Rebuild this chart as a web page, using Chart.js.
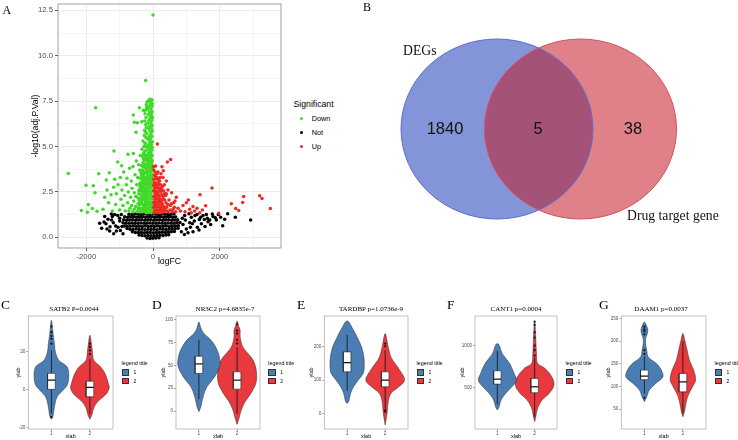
<!DOCTYPE html>
<html>
<head>
<meta charset="utf-8">
<title>DEGs volcano, Venn and violin panels</title>
<script src="https://cdn.jsdelivr.net/npm/chart.js@4.4.1/dist/chart.umd.min.js"></script>
<style>
  html, body { margin: 0; padding: 0; background: #fff; }
  #fig { position: relative; width: 738px; height: 440px; overflow: hidden; font-family: 'Liberation Sans', Arial, sans-serif; color: #000; }
  #fig canvas { position: absolute; }
  .t { position: absolute; white-space: nowrap; line-height: 1; }
  .serif { font-family: 'Liberation Serif', 'Times New Roman', serif; }
  .dot { position: absolute; width: 3.6px; height: 3.6px; border-radius: 50%; margin: -1.8px 0 0 -1.8px; }
  .key { position: absolute; width: 7.5px; height: 6.3px; box-sizing: border-box; border: 0.6px solid #333; }
</style>
</head>
<body>
<div id="fig"></div>
<script>
// ---- A: volcano data (logFC, -log10 adj.P) ----
const volcanoDown = [
  [0,12.24],[-220,8.64],[-1720,7.14],[-410,7.14],[-290,7.0],[-590,6.73],[-560,6.33],[-470,6.31],[-340,6.37],[-510,5.78],
  [-2540,3.52],[-2010,2.86],[-1790,2.84],[-1740,2.46],[-1940,1.80],[-1820,1.58],[-2150,1.47],[-1970,1.38],[-1680,1.43],
  [-1630,3.50],[-1310,3.56],[-1400,3.16],[-1170,4.75],[-1060,4.15],[-750,4.57],[-590,4.62],[-940,3.94],
  [-1500,1.55],[-1450,2.2],[-1380,2.6],[-1330,1.9],[-1260,2.35],[-1220,1.45],[-1180,2.75],[-1150,3.2],[-1120,1.8],
  [-1100,2.4],[-1050,2.9],[-1000,1.5],[-980,3.3],[-960,2.1],[-930,2.6],[-900,1.75],[-880,3.6],[-850,2.3],[-830,1.45],
  [-800,2.9],[-780,3.25],[-760,1.9],[-740,2.5],[-700,3.8],[-690,1.6],[-670,2.2],[-650,3.1],[-630,2.7],[-610,1.4],
  [-600,3.9],[-580,2.0],[-560,2.45],[-540,3.45],[-520,1.7],[-500,4.2],[-490,2.9],[-470,2.2],[-460,3.3],[-440,1.5],
  [-430,4.0],[-420,2.6],[-400,3.7],[-390,1.9],[-380,4.5],[-370,3.0],[-360,2.35],[-350,1.6],[-340,3.4],[-330,4.85],
  [-320,2.75],[-310,2.1],[-300,5.3],[-300,3.9],[-290,1.45],[-280,4.3],[-270,3.2],[-260,2.5],[-250,5.9],[-250,1.8],
  [-720,1.45],[-640,1.75],[-560,1.55],[-520,2.25],[-480,1.4],[-450,1.85],[-410,1.6],[-370,1.4],[-340,2.0],[-320,1.55],
  [-280,1.75],[-260,2.1],[-240,1.4],[-430,2.4],[-390,2.8],[-350,2.6],[-310,3.0],[-270,2.85],[-290,3.6],[-250,3.3],
  [-240,4.0],[-260,4.7],[-230,5.2],[-220,6.2],[-240,6.8],[-200,7.3],
  [-440,1.62],[-400,1.78],[-360,1.95],[-320,1.85],[-300,1.62],[-270,1.5],[-230,1.68],[-420,2.05],[-380,2.15],[-330,2.3],
  [-290,2.2],[-250,2.35],[-220,2.2],[-410,2.55],[-370,2.7],[-330,2.5],[-300,2.6],[-270,2.45],[-240,2.62],[-400,2.95],
  [-350,2.85],[-320,3.15],[-290,3.3],[-260,3.05],[-230,3.2],[-380,3.25],[-360,3.55],[-320,3.7],[-280,3.45],[-250,3.55],
  [-230,3.8],[-340,3.95],[-300,4.1],[-270,3.9],[-250,4.25],[-220,4.4],[-320,4.45],[-290,4.6],[-240,4.55],[-210,4.8],
  [-270,5.0],[-240,5.15],[-210,5.5],[-260,5.6],[-230,5.8],[-200,6.05],[-250,6.4],[-210,6.6],[-230,7.0],[-190,7.15],
  [-180,7.45],[-200,5.0],[-190,4.3],[-210,3.6],[-190,2.9],[-200,2.45],[-190,1.58],
  [-200,1.35],[-120,1.36],[-40,1.35],[-240,1.5],[-160,1.5],[-80,1.52],[-15,1.5],[-210,1.65],[-130,1.66],[-50,1.64],
  [-180,1.8],[-100,1.8],[-25,1.81],[-230,1.95],[-150,1.96],[-70,1.94],[-200,2.1],[-120,2.1],[-40,2.11],
  [-170,2.25],[-90,2.26],[-15,2.25],[-230,2.4],[-150,2.4],[-60,2.41],[-190,2.55],[-110,2.55],[-30,2.56],
  [-220,2.7],[-140,2.7],[-60,2.71],[-180,2.85],[-100,2.85],[-20,2.86],[-210,3.0],[-130,3.0],[-50,3.01],
  [-160,3.15],[-80,3.15],[-15,3.16],[-200,3.3],[-120,3.3],[-40,3.31],[-170,3.45],[-90,3.45],[-20,3.46],
  [-220,3.6],[-140,3.6],[-60,3.61],[-180,3.75],[-100,3.75],[-25,3.76],[-150,3.9],[-70,3.9],[-15,3.91],
  [-200,4.05],[-120,4.05],[-40,4.06],[-160,4.2],[-80,4.2],[-20,4.21],[-130,4.35],[-60,4.36],[-190,4.5],[-100,4.5],
  [-25,4.51],[-140,4.65],[-60,4.66],[-110,4.8],[-30,4.81],[-170,4.95],[-80,4.95],[-20,4.96],[-130,5.1],[-50,5.11],
  [-100,5.25],[-20,5.26],[-150,5.4],[-70,5.41],[-110,5.55],[-30,5.56],[-180,5.7],[-60,5.71],[-90,5.85],[-20,5.86],
  [-140,6.0],[-50,6.01],[-100,6.15],[-25,6.16],[-160,6.3],[-60,6.31],[-120,6.45],[-30,6.46],[-80,6.6],[-20,6.61],
  [-140,6.75],[-50,6.76],[-100,6.9],[-25,6.91],[-160,7.05],[-60,7.06],[-120,7.2],[-30,7.21],[-80,7.35],[-20,7.36],
  [-140,7.5],[-60,7.51],[-100,7.6],[-30,7.58]
];
const volcanoNot = [
  [-180,-0.04],[-90,-0.06],[0,-0.05],[90,-0.04],[180,-0.03],
  [-420,0.12],[-330,0.1],[-240,0.09],[-150,0.1],[-60,0.08],[30,0.09],[120,0.1],[210,0.11],[300,0.1],[390,0.13],[470,0.14],
  [-620,0.3],[-530,0.27],[-440,0.26],[-350,0.27],[-260,0.25],[-170,0.27],[-80,0.26],[10,0.25],[100,0.27],[190,0.26],
  [280,0.28],[370,0.27],[460,0.29],[550,0.3],[640,0.32],
  [-780,0.48],[-690,0.44],[-600,0.43],[-510,0.45],[-420,0.43],[-330,0.44],[-240,0.42],[-150,0.44],[-60,0.43],[30,0.44],
  [120,0.42],[210,0.45],[300,0.44],[390,0.43],[480,0.45],[570,0.46],[660,0.47],[750,0.5],
  [-860,0.62],[-770,0.6],[-680,0.61],[-590,0.62],[-500,0.6],[-410,0.61],[-320,0.6],[-230,0.62],[-140,0.6],[-50,0.61],
  [40,0.6],[130,0.62],[220,0.6],[310,0.61],[400,0.62],[490,0.6],[580,0.61],[670,0.62],[760,0.64],
  [-900,0.8],[-810,0.77],[-720,0.78],[-630,0.79],[-540,0.77],[-450,0.78],[-360,0.79],[-270,0.77],[-180,0.78],[-90,0.79],
  [0,0.77],[90,0.78],[180,0.79],[270,0.77],[360,0.78],[450,0.79],[540,0.77],[630,0.78],[720,0.8],[810,0.82],
  [-880,0.96],[-790,0.94],[-700,0.95],[-610,0.96],[-520,0.94],[-430,0.95],[-340,0.96],[-250,0.94],[-160,0.95],[-70,0.96],
  [20,0.94],[110,0.95],[200,0.96],[290,0.94],[380,0.95],[470,0.96],[560,0.94],[650,0.95],[740,0.97],
  [-850,1.13],[-760,1.11],[-670,1.12],[-580,1.13],[-490,1.11],[-400,1.12],[-310,1.13],[-220,1.11],[-130,1.12],[-40,1.13],
  [50,1.11],[140,1.12],[230,1.13],[320,1.11],[410,1.12],[500,1.13],[590,1.11],[680,1.12],
  [-720,1.27],[-630,1.26],[-540,1.28],[-450,1.27],[-360,1.26],[-270,1.28],[-180,1.27],[-90,1.26],[0,1.28],[90,1.27],
  [180,1.26],[270,1.28],[360,1.27],[450,1.26],[540,1.27],[630,1.28],
  [2930,0.95],[2090,0.64],[2470,1.10],[2240,1.30],[2030,1.10],[1870,1.08],[1730,0.70],[1630,1.05],[1540,0.98],[1390,0.98],
  [1200,0.30],[1330,0.55],[1450,0.75],[1600,1.25],[1100,0.8],[1150,1.1],[1000,0.45],[950,1.2],[900,0.7],[1260,1.2],
  [1700,0.95],[1800,1.15],[1500,1.2],[850,0.3],
  [-1540,0.50],[-1410,0.75],[-1290,0.58],[-1190,0.80],[-1470,0.84],[-1350,1.0],[-1220,1.15],[-1100,0.35],[-1000,0.9],
  [-1050,0.55],[-950,1.25],[-1150,1.25],[-900,0.2],[-1600,0.78],[-1300,0.35],[-1250,1.28],
  [-1380,0.45],[-1240,0.95],[-1120,0.62],[-980,0.38],[-1060,1.2],[-930,0.6],[-1000,1.05],[-1180,0.2],[-1450,1.15],
  [1050,0.25],[1120,0.55],[1240,0.9],[1320,1.25],[1380,0.4],[1430,1.1],[970,0.95],[1080,1.3],[880,1.05],[940,0.15],
  [1180,0.75],[1560,0.6],[1650,0.85],[1780,1.28],[1900,0.95],[1960,1.25],[2150,1.0]
];
const volcanoUp = [
  [130,5.14],[530,4.29],[430,4.15],[80,3.93],[270,3.89],[310,3.67],[1770,2.72],[1410,2.35],[1060,2.06],[1580,1.74],
  [1970,1.32],[2350,1.85],[2690,1.91],[2720,2.24],[2480,1.58],[2570,1.47],[3200,2.29],[3270,2.13],[3520,1.58],
  [620,1.9],[700,2.2],[750,1.6],[820,1.45],[900,1.75],[960,1.4],[1000,1.9],[1100,1.55],[1150,1.35],[1200,1.7],
  [1250,1.45],[1320,1.6],[1400,1.35],[1480,1.5],[680,1.4],[560,2.45],[600,1.55],[520,1.75],[480,2.05],[450,2.6],
  [420,1.45],[400,3.1],[380,2.3],[350,1.6],[340,2.9],[320,2.1],[300,3.3],[290,1.4],[260,2.65],[240,3.5],[230,1.9],
  [200,3.1],[180,2.3],[150,3.6],[130,2.8],[110,3.3],[90,2.5],[60,3.6],[40,3.0],[20,3.9],
  [300,1.5],[330,1.7],[370,1.45],[390,1.9],[410,1.65],[440,1.8],[460,1.4],[280,1.85],[250,2.0],[300,2.25],[350,2.05],
  [400,2.4],[270,2.35],[230,2.5],[320,2.55],[350,2.4],[280,2.8],[230,2.9],[200,2.7],[180,2.9],[210,3.3],[160,3.2],
  [120,3.5],[80,3.25],[190,2.05],[240,1.75],[510,1.5],[550,1.85],[580,1.4],[640,1.65],[660,2.0],
  [30,1.35],[110,1.36],[190,1.35],[260,1.37],[60,1.5],[140,1.5],[220,1.51],[20,1.65],[100,1.65],[180,1.66],[250,1.64],
  [50,1.8],[130,1.8],[210,1.81],[20,1.95],[90,1.95],[170,1.96],[60,2.1],[140,2.1],[220,2.11],[25,2.25],[100,2.25],
  [180,2.26],[60,2.4],[140,2.41],[20,2.55],[100,2.55],[190,2.56],[50,2.7],[130,2.71],[20,2.85],[90,2.86],[60,3.0],
  [150,3.01],[25,3.2],[100,3.21],[50,3.4],[25,3.7]
];
const logFCTicks = [-2000, 0, 2000];
const logFCMinor = [-1000, 1000, 3000];
const adjPTicks = [0, 2.5, 5, 7.5, 10, 12.5];
const adjPMinor = [1.25, 3.75, 6.25, 8.75, 11.25];
const significance = ['Down', 'Not', 'Up'];

// ---- B: Venn ----
const vennSets = ['DEGs', 'Drug target gene'];
const vennCounts = [1840, 5, 38];

// ---- C-G: violin panels ----
const genes = ['SATB2', 'NR3C2', 'TARDBP', 'CANT1', 'DAAM1'];
const pTexts = ['P=0.0044', 'p=4.6835e-7', 'p=1.0736e-9', 'p=0.0004', 'p=0.0037'];
const groups = ['1', '2'];
const exprTicks = [[-20, 0, 20], [0, 25, 50, 75, 100], [0, 100, 200], [500, 1000], [50, 100, 150, 200, 250]];
const exprRange = [[-20.8, 38.5], [-19.6, 104], [-47, 293], [8, 1357], [6, 255.5]];
// [value, half width of the density]
const violinG1 = [
  [[-15.7,0],[-14.3,0.04],[-9.1,0.08],[-3.9,0.15],[-0.4,0.30],[2.3,0.41],[6.6,0.45],[11.8,0.41],[15.3,0.19],[20,0.10],[24,0.08],[28,0.05],[32,0.03],[36.3,0]],
  [[-0.7,0],[4.7,0.05],[15.6,0.11],[26.5,0.21],[37.4,0.41],[48.4,0.54],[55.7,0.55],[66.6,0.48],[77.5,0.32],[84.8,0.13],[91,0.05],[97.5,0]],
  [[30,0],[35,0.04],[60,0.09],[80,0.17],[100,0.29],[120,0.42],[140,0.45],[170,0.44],[200,0.38],[230,0.26],[250,0.17],[278,0]],
  [[234,0],[274,0.05],[354,0.10],[433,0.22],[512,0.39],[591,0.51],[671,0.45],[790,0.33],[910,0.13],[1008,0.05],[1028,0]],
  [[66,0],[77,0.06],[92,0.13],[107,0.30],[121,0.48],[136,0.44],[150,0.32],[165,0.10],[180,0.06],[195,0.03],[205,0.03],[215,0.07],[224,0.09],[233,0.06],[242,0]]
];
const violinG2 = [
  [[-15.7,0],[-13.5,0.05],[-9.8,0.10],[-6.5,0.20],[-3,0.40],[0.5,0.50],[3.1,0.48],[8.4,0.39],[11.8,0.28],[15.3,0.10],[18.8,0.07],[22.3,0.05],[28.4,0]],
  [[-14.5,0],[-8,0.05],[1.1,0.11],[10.2,0.21],[19.3,0.36],[30.2,0.49],[41.2,0.51],[52,0.46],[59.3,0.36],[70.2,0.15],[81.1,0.08],[88.4,0.08],[93,0.04],[98.6,0]],
  [[-35,0],[0,0.05],[35,0.08],[60,0.15],[80,0.36],[100,0.51],[125,0.41],[150,0.26],[170,0.15],[200,0.08],[240,0]],
  [[95,0],[150,0.03],[255,0.08],[354,0.20],[433,0.39],[532,0.52],[631,0.46],[731,0.28],[790,0.08],[900,0.05],[1100,0.03],[1298,0]],
  [[33,0],[44,0.04],[62.5,0.08],[81,0.14],[99,0.25],[114,0.33],[136,0.28],[158,0.17],[180,0.11],[202,0.05],[217,0]]
];
// [lower whisker, q1, median, q3, upper whisker]
const boxG1 = [[-12.5, 0, 4.9, 8.4, 20.5], [13, 41.1, 51.6, 60, 78], [68, 125, 153, 185, 236], [300, 544, 603, 703, 940], [85, 115, 122.6, 136, 166]];
const boxG2 = [[-13, -3.9, 1.0, 4.3, 16], [-3, 24, 33.8, 42.9, 70], [15, 80, 100, 125, 190], [150, 441, 512, 612, 860], [40, 88, 110, 128.6, 200]];
const outG1 = [[-14.5, 24, 26.5, 28, 30, 33], [], [], [], [75, 172, 180, 215, 222, 226, 232]];
const outG2 = [[18.5, 20.5, 22.3, 24], [74, 78, 84.8, 88, 95], [5, 10, 202, 210], [885, 950, 1004, 1100, 1162, 1250, 1290], []];

// ---- styles / layout ----
const GREEN = '#3fd928', RED_PT = '#ee2a24';
const BLUE = '#4a7db4', RED = '#e8393e';
const BOX_HALF = 0.1;
const panels = [
  { left: 28.3, right: 115, yAxisW: 13, letterX: 1, titleX: 74 },
  { left: 176, right: 261.7, yAxisW: 16, letterX: 152, titleX: 225 },
  { left: 324.3, right: 410, yAxisW: 16, letterX: 297, titleX: 371 },
  { left: 475, right: 559, yAxisW: 16, letterX: 447, titleX: 516 },
  { left: 621.3, right: 708, yAxisW: 16, letterX: 599, titleX: 661 }
];

Chart.defaults.font.family = "'Liberation Sans', Arial, sans-serif";

const fig = document.getElementById('fig');

function addCanvas(left, top, w, h) {
  const c = document.createElement('canvas');
  c.width = w; c.height = h;
  c.style.left = left + 'px'; c.style.top = top + 'px';
  c.style.width = w + 'px'; c.style.height = h + 'px';
  fig.appendChild(c);
  return c;
}

function addText(text, x, y, size, opts = {}) {
  const d = document.createElement('div');
  d.className = 't' + (opts.serif ? ' serif' : '');
  d.textContent = text;
  d.style.left = x + 'px'; d.style.top = y + 'px';
  d.style.fontSize = size + 'px';
  if (opts.color) d.style.color = opts.color;
  d.style.transform = 'translate(' + (opts.center ? '-50%' : '0') + ', -50%)';
  fig.appendChild(d);
  return d;
}

function addBox(cls, x, y, color) {
  const d = document.createElement('div');
  d.className = cls;
  d.style.left = x + 'px'; d.style.top = y + 'px';
  d.style.background = color;
  fig.appendChild(d);
}

const toXY = arr => arr.map(p => ({ x: p[0], y: p[1] }));
const has = (arr, v) => arr.some(t => Math.abs(t - v) < 1e-9);

const framePlugin = {
  id: 'frame',
  afterDatasetsDraw(chart, args, opts) {
    const a = chart.chartArea, ctx = chart.ctx;
    ctx.save();
    ctx.strokeStyle = opts.color;
    ctx.lineWidth = opts.width;
    ctx.strokeRect(a.left, a.top, a.right - a.left, a.bottom - a.top);
    ctx.restore();
  }
};

// ---------- A: volcano ----------
new Chart(addCanvas(0, 0, 290, 270), {
  type: 'scatter',
  data: {
    datasets: [
      { label: significance[0], data: toXY(volcanoDown), backgroundColor: GREEN, order: 1 },
      { label: significance[1], data: toXY(volcanoNot), backgroundColor: '#000', order: 2 },
      { label: significance[2], data: toXY(volcanoUp), backgroundColor: RED_PT, order: 0 }
    ]
  },
  options: {
    responsive: false, animation: false, events: [],
    elements: { point: { radius: 1.75, borderWidth: 0 } },
    layout: { padding: { left: 30, right: 9, top: 4, bottom: 0 } },
    plugins: { legend: { display: false }, tooltip: { enabled: false }, frame: { color: '#8a8a8a', width: 0.8 } },
    scales: {
      x: {
        min: -2850, max: 3840,
        afterBuildTicks: s => { s.ticks = logFCMinor.concat(logFCTicks).sort((a, b) => a - b).map(v => ({ value: v })); },
        afterFit: s => { s.height = 22; s.paddingLeft = 0; s.paddingRight = 0; },
        border: { display: false },
        grid: {
          color: '#ebebeb', tickLength: 3,
          lineWidth: c => (c.tick && has(logFCTicks, c.tick.value)) ? 0.9 : 0.45,
          tickColor: c => (c.tick && has(logFCTicks, c.tick.value)) ? '#444' : 'rgba(0,0,0,0)'
        },
        ticks: { autoSkip: false, maxRotation: 0, padding: 1, color: '#4d4d4d', font: { size: 7.7 },
                 callback: v => has(logFCTicks, v) ? String(v) : '' },
        title: { display: true, text: 'logFC', color: '#000', font: { size: 8.7 }, padding: { top: 0, bottom: 3 } }
      },
      y: {
        min: -0.59, max: 12.85,
        afterBuildTicks: s => { s.ticks = adjPMinor.concat(adjPTicks).sort((a, b) => a - b).map(v => ({ value: v })); },
        afterFit: s => { s.width = 28; s.paddingTop = 0; s.paddingBottom = 0; },
        border: { display: false },
        grid: {
          color: '#ebebeb', tickLength: 3,
          lineWidth: c => (c.tick && has(adjPTicks, c.tick.value)) ? 0.9 : 0.45,
          tickColor: c => (c.tick && has(adjPTicks, c.tick.value)) ? '#444' : 'rgba(0,0,0,0)'
        },
        ticks: { autoSkip: false, padding: 2, color: '#4d4d4d', font: { size: 7.7 },
                 callback: v => has(adjPTicks, v) ? v.toFixed(1) : '' },
        title: { display: true, text: '-log10(adj.P.Val)', color: '#000', font: { size: 8.7 }, padding: { top: 0, bottom: 0 } }
      }
    }
  },
  plugins: [framePlugin]
});

addText('A', 2.5, 10, 12, { serif: true });
addText('Significant', 293.5, 104, 8.7);
[GREEN, '#000', RED_PT].forEach((col, i) => {
  addBox('dot', 301.7, 118.7 + i * 14, col);
  addText(significance[i], 311.7, 118.7 + i * 14, 7.3);
});

// ---------- B: Venn ----------
const vennShapes = [
  { cx: 127, cy: 129, rx: 96, ry: 90, fill: '#8494d9', line: '#5b6ecc' },
  { cx: 210.5, cy: 129, rx: 96, ry: 90, fill: '#e0818a', line: '#d2505f' }
];
const vennOverlap = '#a55279';
const vennCountPos = [[75, 134], [168, 134], [263, 134]];
const vennLabelPos = [[33, 55], [257, 219.5]];

const vennPlugin = {
  id: 'venn',
  afterDatasetsDraw(chart) {
    const { ctx, scales: { x, y } } = chart;
    const el = s => [x.getPixelForValue(s.cx), y.getPixelForValue(s.cy),
                     Math.abs(x.getPixelForValue(s.cx + s.rx) - x.getPixelForValue(s.cx)),
                     Math.abs(y.getPixelForValue(s.cy + s.ry) - y.getPixelForValue(s.cy))];
    const path = s => { const e = el(s); ctx.beginPath(); ctx.ellipse(e[0], e[1], e[2], e[3], 0, 0, Math.PI * 2); };
    ctx.save();
    vennShapes.forEach(s => { path(s); ctx.fillStyle = s.fill; ctx.fill(); });
    ctx.save();
    path(vennShapes[0]); ctx.clip();
    path(vennShapes[1]); ctx.fillStyle = vennOverlap; ctx.fill();
    ctx.restore();
    vennShapes.forEach(s => { path(s); ctx.strokeStyle = s.line; ctx.lineWidth = 1; ctx.stroke(); });
    ctx.fillStyle = '#111';
    ctx.textAlign = 'center'; ctx.textBaseline = 'alphabetic';
    ctx.font = "16.5px 'Liberation Sans', Arial, sans-serif";
    vennCounts.forEach((n, i) => ctx.fillText(String(n), x.getPixelForValue(vennCountPos[i][0]), y.getPixelForValue(vennCountPos[i][1])));
    ctx.textAlign = 'left';
    ctx.font = "13.7px 'Liberation Serif', 'Times New Roman', serif";
    vennSets.forEach((s, i) => ctx.fillText(s, x.getPixelForValue(vennLabelPos[i][0]), y.getPixelForValue(vennLabelPos[i][1])));
    ctx.restore();
  }
};

new Chart(addCanvas(370, 0, 368, 260), {
  type: 'scatter',
  data: { datasets: [] },
  options: {
    responsive: false, animation: false, events: [],
    layout: { padding: 0 },
    plugins: { legend: { display: false }, tooltip: { enabled: false } },
    scales: {
      x: { display: false, min: 0, max: 368 },
      y: { display: false, min: 0, max: 260, reverse: true }
    }
  },
  plugins: [vennPlugin]
});
addText('B', 363, 7, 12, { serif: true });

// ---------- C-G: violins ----------
function violinPath(g, prof) {
  const right = prof.map(p => ({ x: g + p[1], y: p[0] }));
  const left = prof.slice(0, -1).reverse().map(p => ({ x: g - p[1], y: p[0] }));
  return right.concat(left);
}
function boxPath(g, b) {
  return [{ x: g - BOX_HALF, y: b[1] }, { x: g + BOX_HALF, y: b[1] }, { x: g + BOX_HALF, y: b[3] },
          { x: g - BOX_HALF, y: b[3] }, { x: g - BOX_HALF, y: b[1] }];
}

const PLOT_TOP = 315.7, PLOT_BOTTOM = 429, CANVAS_TOP = 312;

panels.forEach((p, i) => {
  const cl = Math.floor(p.left) - 30;
  const cw = Math.ceil(p.right) + 2 - cl;
  const ds = [];
  [[violinG1[i], boxG1[i], outG1[i], BLUE], [violinG2[i], boxG2[i], outG2[i], RED]].forEach(([prof, b, outs, col], k) => {
    const g = k + 1;
    ds.push({ data: violinPath(g, prof), showLine: true, fill: 'shape', backgroundColor: col, borderColor: '#2b2b2b',
              borderWidth: 0.5, pointRadius: 0, tension: 0.35, order: 5 });
    ds.push({ data: [{ x: g, y: b[0] }, { x: g, y: b[4] }], showLine: true, borderColor: '#111', borderWidth: 0.8,
              pointRadius: 0, order: 4 });
    ds.push({ data: outs.map(v => ({ x: g, y: v })), pointRadius: 1.1, backgroundColor: '#111', borderWidth: 0, order: 3 });
    ds.push({ data: boxPath(g, b), showLine: true, fill: 'shape', backgroundColor: '#fff', borderColor: '#222',
              borderWidth: 0.6, pointRadius: 0, tension: 0, order: 2 });
    ds.push({ data: [{ x: g - BOX_HALF, y: b[2] }, { x: g + BOX_HALF, y: b[2] }], showLine: true, borderColor: '#111',
              borderWidth: 1.2, pointRadius: 0, order: 1 });
  });

  new Chart(addCanvas(cl, CANVAS_TOP, cw, 440 - CANVAS_TOP), {
    type: 'scatter',
    data: { datasets: ds },
    options: {
      responsive: false, animation: false, events: [],
      layout: { padding: { left: p.left - cl - p.yAxisW, right: cl + cw - p.right, top: PLOT_TOP - CANVAS_TOP, bottom: 0 } },
      plugins: { legend: { display: false }, tooltip: { enabled: false }, frame: { color: '#a8a8a8', width: 0.7 } },
      scales: {
        x: {
          min: 0.4, max: 2.6,
          afterBuildTicks: s => { s.ticks = groups.map((gname, j) => ({ value: j + 1 })); },
          afterFit: s => { s.height = 440 - PLOT_BOTTOM; s.paddingLeft = 0; s.paddingRight = 0; },
          border: { display: false },
          grid: { drawOnChartArea: false, tickLength: 2, color: '#444', lineWidth: 0.5 },
          ticks: { autoSkip: false, maxRotation: 0, padding: 0, color: '#4d4d4d', font: { size: 4.8 },
                   callback: (v, j) => groups[j] },
          title: { display: true, text: 'xlab', color: '#000', font: { size: 5.5 }, padding: { top: 0, bottom: 0 } }
        },
        y: {
          min: exprRange[i][0], max: exprRange[i][1],
          afterBuildTicks: s => { s.ticks = exprTicks[i].map(v => ({ value: v })); },
          afterFit: s => { s.width = p.yAxisW; s.paddingTop = 0; s.paddingBottom = 0; },
          border: { display: false },
          grid: { drawOnChartArea: false, tickLength: 2, color: '#444', lineWidth: 0.5 },
          ticks: { autoSkip: false, padding: 1, color: '#4d4d4d', font: { size: 4.6 }, callback: v => String(v) },
          title: { display: true, text: 'ylab', color: '#000', font: { size: 5.5 }, padding: { top: 0, bottom: 0 } }
        }
      }
    },
    plugins: [framePlugin]
  });

  addText('CDEFG'[i], p.letterX, 304.5, 13.5, { serif: true });
  addText(genes[i] + ' ' + pTexts[i], p.titleX, 309, 7, { serif: true, center: true });
  const lx = p.right + 6.5;
  addText('legend title', lx, 363.5, 5.4);
  [BLUE, RED].forEach((col, k) => {
    addBox('key', lx, 369.3 + k * 8.2, col);
    addText(groups[k], lx + 12, 372.4 + k * 8.2, 5);
  });
});
</script>
</body>
</html>
